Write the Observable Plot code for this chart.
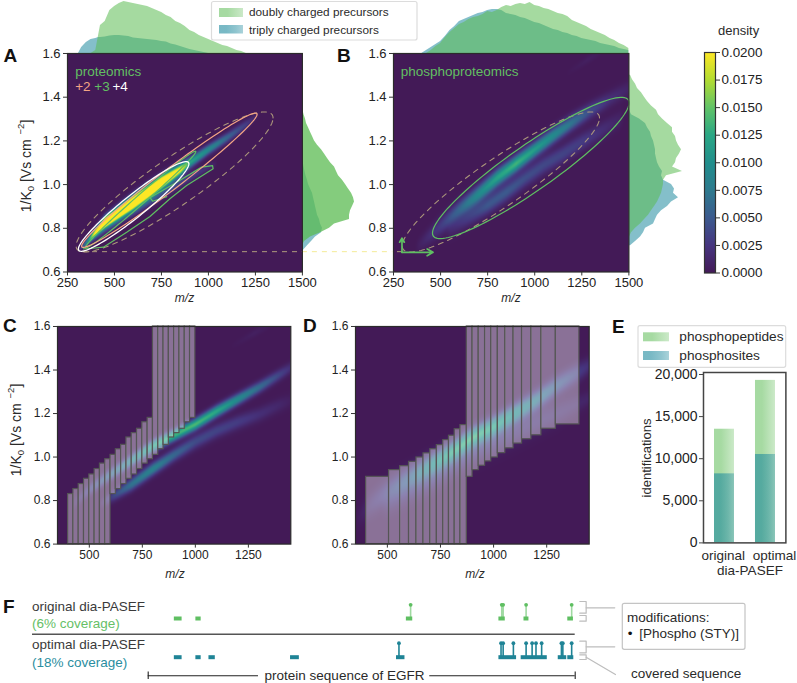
<!DOCTYPE html>
<html><head><meta charset="utf-8">
<script src="https://cdn.jsdelivr.net/npm/d3@7"></script>
<script src="https://cdn.jsdelivr.net/npm/@observablehq/plot@0.6"></script>
<style>
html,body{margin:0;padding:0;background:#fff}
#root{position:relative;width:797px;height:683px;overflow:hidden;font-family:"Liberation Sans",Arial,sans-serif}
#root svg{overflow:visible}
</style></head><body>
<svg width="0" height="0" style="position:absolute"><defs>
<linearGradient id="gGreen"><stop offset="0.35" stop-color="#a6daa2"/><stop offset="1" stop-color="#cbe9c8"/></linearGradient>
<linearGradient id="gTeal"><stop offset="0.3" stop-color="#1f8a9e" stop-opacity="0.6"/><stop offset="0.7" stop-color="#1f8a9e" stop-opacity="0.5"/><stop offset="1" stop-color="#1f8a9e" stop-opacity="0.38"/></linearGradient>
</defs></svg>
<div id="root"></div>
<script>
// ---------- colours ----------
const colorStops=["#431a57","#46357f","#3c5a8e","#2e7a8e","#218e8c","#2aa785","#62c368","#b2dc32","#fde725"];
const GREEN="#5fbf62",TEAL="#1f8496",TAN="#b09c7c",SALMON="#f4a585";

// ---------- density ridges: [m/z, 1/K0, peak density, cross width] ----------
const ridgeA1=[[317,.705,.002,.006],[350,.733,.008,.010],[400,.782,.022,.014],[450,.826,.032,.018],[600,.918,.036,.021],[750,1.01,.032,.02],[850,1.068,.021,.018],[900,1.10,.0125,.017],[1000,1.16,.0095,.015],[1100,1.215,.006,.015],[1200,1.275,.003,.014],[1265,1.32,.0005,.01]];
const ridgeA2=[[400,.745,.001,.01],[550,.845,.002,.013],[700,.93,.004,.018],[850,1.01,.0035,.016],[1000,1.08,.002,.012],[1040,1.095,.0004,.01]];
const ridgeB1=[[380,.72,.0005,.023],[500,.81,.003,.028],[600,.885,.006,.028],[700,.955,.0095,.027],[800,1.03,.012,.026],[900,1.095,.0135,.025],[1000,1.16,.0115,.024],[1100,1.225,.0095,.024],[1200,1.285,.007,.024],[1300,1.34,.004,.024],[1400,1.39,.002,.024],[1500,1.44,.001,.024]];
const ridgeB2=[[550,.79,.001,.025],[650,.85,.003,.027],[750,.905,.0048,.027],[850,.965,.005,.027],[950,1.03,.0042,.027],[1050,1.09,.0038,.027],[1150,1.14,.0035,.027],[1250,1.195,.003,.027],[1350,1.245,.002,.027],[1450,1.30,.001,.027]];
const ridgeFaint=[[1180,1.515,.0001,.012],[1280,1.57,.0006,.012],[1340,1.6,.0003,.012]];
const ridgeC1=[[430,.79,.0008,.018],[500,.85,.003,.018],[600,.92,.006,.018],[700,.985,.0085,.018],[800,1.05,.012,.018],[900,1.10,.0135,.018],[1000,1.15,.014,.018],[1100,1.21,.0125,.018],[1200,1.265,.0095,.018],[1300,1.32,.0065,.018],[1400,1.38,.0035,.018],[1450,1.41,.002,.018]];
const ridgeC2=[[560,.79,.001,.015],[620,.825,.004,.018],[700,.875,.007,.02],[800,.945,.0085,.02],[900,1.01,.006,.02],[1000,1.07,.004,.022],[1100,1.12,.0035,.022],[1200,1.16,.003,.022],[1300,1.195,.002,.022],[1400,1.24,.0012,.022],[1450,1.26,.0006,.022]];
const ridgeD1=[[360,.72,.0003,.032],[420,.78,.0015,.038],[500,.84,.003,.038],[600,.90,.005,.035],[700,.96,.0085,.032],[800,1.02,.0115,.03],[900,1.09,.0125,.029],[1000,1.14,.0115,.029],[1100,1.20,.0095,.029],[1200,1.26,.0075,.029],[1300,1.33,.005,.029],[1400,1.39,.003,.029],[1450,1.42,.002,.026]];
const ridgeD2=[[500,.78,.001,.036],[700,.90,.0025,.042],[900,1.03,.0025,.042],[1100,1.12,.002,.042],[1300,1.20,.0015,.036],[1450,1.27,.001,.024]];

// ---------- marginal histograms (bar length) ----------
const topA_mz=[308,325,350,375,400,415,425,450,475,500,525,550,575,600,625,650,675,700,725,750,775,800,825,850,875,900,925,950,975,1000,1025,1050,1075,1100,1125,1150,1175,1200];
const topA_2=[0,0,0,0,3,18,28,32,43,47,50,52,51,50,49,48,47,45,43,41,38,36,32,30,27,23,21,18,16,14,12,10,8,7,5,3,2,0];
const topA_3=[0,6,11,14,15,16,16,16.5,17.5,18,18,17.5,17,15.5,15,14.5,14,13.5,13,12,11.5,9.5,8.5,7,5.5,4,3,2,1,0,0,0,0,0,0,0,0,0];
const topB_mz=[400,425,450,475,500,525,550,575,600,625,650,675,700,725,750,775,800,825,850,875,900,925,950,975,1000,1025,1050,1075,1100,1125,1150,1175,1200,1225,1250,1275,1300,1325,1350,1375,1400,1425,1450,1475,1500];
const topB_2=[0,0,3,7,10,16,21,25,29,31,34,36,37,39,42,41,43,46,48,47,49,50,49,51,48,47,45,44,42,40,39,37,33,31,29,27,24,22,20,18,15,13,10,8,5];
const topB_3=[0,3,6,9,12,17,23,27,32,34,36,38,40,41,43,44,44,43,40,39,38,36,35,33,31,30,28,26,24,23,21,20,18,17,15,14,13,12,10,9,8,7,5,4,3];
const rightA_k=[.70,.72,.74,.76,.78,.80,.82,.84,.86,.88,.90,.92,.94,.96,.98,1.0,1.02,1.04,1.06,1.08,1.10,1.12,1.14,1.16,1.18,1.20,1.22,1.24,1.26,1.28,1.30,1.32,1.34];
const rightA_2=[0,0,2,8,18,27,32,47,47,48,50,52,51,49,46,43,40,36,34,32,28,25,22,19,15,12,10,8,6,4,3,1.5,.5];
const rightA_3=[1,5,9,13,19,20,18,17,15,14,13,12,11,10,8,6,5,3.5,2.5,1.5,.8,.3,0,0,0,0,0,0,0,0,0,0,0];
const rightB_k=[.72,.74,.76,.78,.80,.82,.84,.86,.88,.90,.92,.94,.96,.98,1.0,1.02,1.04,1.06,1.08,1.10,1.12,1.14,1.16,1.18,1.20,1.22,1.24,1.26,1.28,1.30,1.32,1.34,1.36,1.38,1.40,1.42,1.44,1.46,1.48,1.50];
const rightB_2=[0,0,0,2,6,11,15,19,22,25,28,30,32,33,34,34,37,53,43,46,47,50,52,49,47,46,43,43,38,33,29,27,22,18,15,12,8,6,3,1];
const rightB_3=[1,6,11,14,16,24,26,28,32,38,42,49,44,45,42,34,32,33,30,28,27,26,26,25,24,22,21,18,16,10,2,0,0,0,0,0,0,0,0,0];

// ---------- contour ellipses: centre, major vector, minor vector ----------
const ellDashed=[[820,1.012],[524,.293],[0,.13]];
const ellPlus2=[[792,1.02],[467,.302],[0,.058]];
const ellPlus3=[[638.5,.931],[294.5,.22],[0,.028]];
const ellPlus4=[[602,.90],[294,.195],[0,.064]];
const ellPhos=[[979,1.076],[522,.298],[0,.125]];
const plus3Crescent=[[335,.706],[370,.7075],[441,.7135],[565,.782],[689,.854],[795,.935],[884,.996],[1025,1.072],[1022,1.087],[964,1.08],[831,1.011],[689,.94],[703,.924],[778,.945]];

// ---------- isolation windows ----------
const cTops=[.83,.853,.876,.9,.92,.945,.97,.99];
const cMids=[1.01,1.036,1.056,1.09,1.11,1.13,1.16,1.18];
const cStart=[400,600,800];
const dEdgesLow=[400,508,560,602,637,670,702,733,763,790,817,844,874];
const dTopsLow=[.909,.94,.958,.978,.998,1.017,1.036,1.055,1.078,1.098,1.128,1.147];
const dEdgesHigh=[874,901,930,960,989,1020,1055,1094,1134,1178,1225,1293,1404];
const dBotsHigh=[.909,.94,.96,.98,.998,1.018,1.04,1.062,1.082,1.10,1.13,1.15];

// ---------- bars ----------
const methods=["original","optimal"];
const phosphopeptides=[13500,19300];
const phosphosites=[8200,10500];

// ---------- sequence coverage (residues of EGFR) ----------
const origCovered=[[75,97],[136,151],[732,750],[994,1012],[1065,1079],[1189,1205]];
const optCovered=[[75,97],[136,151],[173,191],[404,429],[704,728],[994,1044],[1057,1131],[1162,1186],[1189,1206]];
const origSites=[744,1002,1006,1071,1200];
const optSites=[711,1000,1006,1035,1071,1088,1099,1115,1171,1175,1200];
const SEQ_LEN=1210;

// ---------- helpers ----------
const root=document.getElementById("root");
function place(node,left,top){node.style.position="absolute";node.style.left=left+"px";node.style.top=top+"px";root.append(node);return node;}
const baseStyle=(fs)=>({fontFamily:"'Liberation Sans',Arial,sans-serif",fontSize:fs+"px",background:"transparent",overflow:"visible",color:"#222"});
const colorScale={type:"linear",domain:[0,.02],clamp:true,interpolate:d3.piecewise(d3.interpolateRgb,colorStops)};
function density(ridges){
  const rs=ridges.map(r=>{
    const xs=r.map(d=>d[0]);
    const mk=i=>d3.scaleLinear().domain(xs).range(r.map(d=>d[i]));
    return {lo:xs[0],hi:xs[xs.length-1],k:mk(1),p:mk(2),s:mk(3)};
  });
  return (x,y)=>{
    let t=0;
    for(const r of rs){
      if(x<r.lo-30||x>r.hi+30) continue;
      const f=x<r.lo?(x-(r.lo-30))/30:x>r.hi?((r.hi+30)-x)/30:1;
      const d=(y-r.k(x))/r.s(x);
      t+=f*r.p(x)*Math.exp(-d*d/2);
    }
    return t;
  };
}
function ellipse([c,u,v]){
  return d3.range(0,361,3).map(a=>{const t=a*Math.PI/180;return [c[0]+Math.cos(t)*u[0]+Math.sin(t)*v[0],c[1]+Math.cos(t)*u[1]+Math.sin(t)*v[1]];});
}
const ellLine=(e,o)=>Plot.line(ellipse(e),{x:d=>d[0],y:d=>d[1],...o});
function panel({left,top,w,h,domain,xticks,ridges,extra=[],fs=13}){
  const ml=40,mt=6,mb=26,mr=6;
  const p=Plot.plot({width:w+ml+mr,height:h+mt+mb,marginLeft:ml,marginRight:mr,marginTop:mt,marginBottom:mb,
    style:baseStyle(fs),
    x:{domain},y:{domain:[.6,1.6]},color:colorScale,
    marks:[
      Plot.raster({x1:domain[0],x2:domain[1],y1:.6,y2:1.6,fill:density(ridges),pixelSize:1}),
      ...extra,
      Plot.frame({stroke:"#2b2b2b",strokeWidth:1.2}),
      Plot.axisX({ticks:xticks,tickSize:4,tickPadding:2,tickFormat:d=>String(d),label:null,stroke:"#333"}),
      Plot.axisY({ticks:[.6,.8,1,1.2,1.4,1.6],tickSize:4,tickPadding:3,tickFormat:d3.format(".1f"),label:null,stroke:"#333"})
    ]});
  place(p,left-ml,top-mt);
}
function histTop(mz,teal,green,domain,left,opG){
  const mk=a=>mz.map((x,i)=>({x,v:a[i]}));
  const p=Plot.plot({width:235.4,height:55,margin:0,style:baseStyle(10),x:{domain,axis:null},y:{domain:[0,55],axis:null},
    marks:[
      Plot.areaY(mk(teal),{x:"x",y:"v",fill:"#1f8a9e",fillOpacity:.55,curve:"linear"}),
      Plot.areaY(mk(green),{x:"x",y:"v",fill:"#5bbb52",fillOpacity:opG,curve:"linear"})
    ]});
  place(p,left,-2);
}
function histRight(k,teal,green,left,opG){
  const mk=a=>k.map((y,i)=>({y,v:a[i]}));
  const p=Plot.plot({width:60,height:218.5,margin:0,style:baseStyle(10),x:{domain:[0,60],axis:null},y:{domain:[.6,1.6],axis:null},
    marks:[
      Plot.areaX(mk(teal),{y:"y",x:"v",fill:"#1f8a9e",fillOpacity:.55,curve:"linear"}),
      Plot.areaX(mk(green),{y:"y",x:"v",fill:"#5bbb52",fillOpacity:opG,curve:"linear"})
    ]});
  place(p,left,53);
}

// ---------- histograms behind panels ----------
histTop(topA_mz,topA_3,topA_2,[250,1500],67.3,.55);
histTop(topB_mz,topB_3,topB_2,[250,1500],393.3,.55);
histRight(rightA_k,rightA_3,rightA_2,302.2,.75);
histRight(rightB_k,rightB_3,rightB_2,628.7,.55);

// ---------- panels A, B ----------
const xt250=[250,500,750,1000,1250,1500];
const dashedE=ellLine(ellDashed,{stroke:TAN,strokeWidth:1.1,strokeDasharray:"5,5",strokeOpacity:.95});
const txt=(s,x,y,fill)=>Plot.text([s],{x:()=>x,y:()=>y,text:d=>d,fill,textAnchor:"start",fontSize:13.5,lineAnchor:"bottom",dy:3});
panel({left:67.3,top:53,w:234.9,h:218.5,domain:[250,1500],xticks:xt250,ridges:[ridgeA1,ridgeA2],extra:[
  Plot.ruleY([.693],{x1:330,x2:1500,stroke:TAN,strokeWidth:1,strokeDasharray:"5,5"}),
  Plot.ruleY([.693],{x1:1500,x2:1981,stroke:"#f3eb98",strokeWidth:1,strokeDasharray:"5,5"}),
  dashedE,
  Plot.line(plus3Crescent,{x:d=>d[0],y:d=>d[1],stroke:GREEN,strokeWidth:1.2}),
  ellLine(ellPlus3,{stroke:GREEN,strokeWidth:1.2}),
  ellLine(ellPlus2,{stroke:SALMON,strokeWidth:1.2}),
  ellLine(ellPlus4,{stroke:"#fff",strokeWidth:1.3}),
  txt("proteomics",291,1.51,"#62bf62"),
  txt("+2",291,1.44,SALMON),txt("+3",393,1.44,"#62bf62"),txt("+4",489,1.44,"#fff")
]});
panel({left:393.3,top:53,w:235.4,h:218.5,domain:[250,1500],xticks:xt250,ridges:[ridgeB1,ridgeB2,ridgeFaint],extra:[
  Plot.ruleY([.693],{x1:271,x2:300,stroke:TAN,strokeWidth:1,strokeDasharray:"5,5"}),
  dashedE,
  ellLine(ellPhos,{stroke:GREEN,strokeWidth:1.2}),
  Plot.arrow([0],{x1:()=>295,y1:()=>.69,x2:()=>460,y2:()=>.69,bend:false,stroke:GREEN,strokeWidth:1.7,headLength:6}),
  Plot.arrow([0],{x1:()=>295,y1:()=>.69,x2:()=>295,y2:()=>.755,bend:false,stroke:GREEN,strokeWidth:1.7,headLength:6}),
  txt("phosphoproteomics",289,1.51,"#62bf62")
]});

// ---------- panels C, D ----------
const winStyle={fill:"#fff",fillOpacity:.38,stroke:"#555",strokeWidth:1.2,inset:0};
const cWindows=[];
cTops.forEach((t,i)=>cWindows.push({x1:cStart[0]+25*i,x2:cStart[0]+25*(i+1),y1:.6,y2:t}));
cTops.forEach((t,i)=>cWindows.push({x1:cStart[1]+25*i,x2:cStart[1]+25*(i+1),y1:t,y2:cMids[i]}));
cMids.forEach((t,i)=>cWindows.push({x1:cStart[2]+25*i,x2:cStart[2]+25*(i+1),y1:t,y2:1.6}));
const dWindows=[];
dTopsLow.forEach((t,i)=>dWindows.push({x1:dEdgesLow[i],x2:dEdgesLow[i+1],y1:.6,y2:t}));
dBotsHigh.forEach((b,i)=>dWindows.push({x1:dEdgesHigh[i],x2:dEdgesHigh[i+1],y1:b,y2:1.6}));
const rectOf=w=>Plot.rect(w,{x1:"x1",x2:"x2",y1:"y1",y2:"y2",...winStyle});
const xtCD=[500,750,1000,1250];
panel({left:56.7,top:325.7,w:233.3,h:217.6,domain:[350,1450],xticks:xtCD,fs:12,ridges:[ridgeC1,ridgeC2,ridgeFaint],extra:[rectOf(cWindows)]});
panel({left:355,top:325.7,w:233.7,h:217.6,domain:[350,1450],xticks:xtCD,fs:12,ridges:[ridgeD1,ridgeD2],extra:[rectOf(dWindows)]});

// ---------- colour bar ----------
place(Plot.plot({width:11+45,height:220.5+12,marginLeft:0,marginRight:45,marginTop:6,marginBottom:6,style:baseStyle(13.4),
  x:{domain:[0,1],axis:null},y:{domain:[0,.02]},color:colorScale,
  marks:[
    Plot.raster({x1:0,x2:1,y1:0,y2:.02,fill:(x,y)=>y,pixelSize:1}),
    Plot.frame({stroke:"#333",strokeWidth:1.2}),
    Plot.axisY({anchor:"right",ticks:d3.range(0,.0201,.0025),tickSize:4,tickPadding:2,tickFormat:d3.format(".4f"),label:null,stroke:"#333"})
  ]}),704,45.5);

// ---------- panel E ----------
place(Plot.plot({width:82.4+50,height:170.4+4,marginLeft:50,marginRight:0,marginTop:2,marginBottom:2,style:baseStyle(14),
  x:{domain:methods,axis:null,paddingInner:.52,paddingOuter:.245},y:{domain:[0,20238]},
  marks:[
    Plot.barY(methods.map((m,i)=>({m,v:phosphopeptides[i]})),{x:"m",y:"v",fill:"url(#gGreen)"}),
    Plot.barY(methods.map((m,i)=>({m,v:phosphosites[i]})),{x:"m",y:"v",fill:"url(#gTeal)"}),
    Plot.frame({stroke:"#444",strokeWidth:1.5}),
    Plot.axisY({ticks:[0,5000,10000,15000,20000],tickFormat:d3.format(",d"),tickSize:4,tickPadding:2,label:null,stroke:"#444"})
  ]}),703.3-50,370.3);

// ---------- panel F ----------
const resOf=px=>1+(px-147.7)*2.831;
const rows=[{seg:origCovered,sites:origSites,y:28,top:14.3,c:GREEN,so:.6},{seg:optCovered,sites:optSites,y:66.7,top:52.7,c:TEAL,so:1}];
const bracketMarks=[[11,22.7,17.3],[25,30.7,null],[50.7,62.3,56.3],[64.3,69,null]].flatMap(([a,b,m])=>{
  const mks=[Plot.line([[1223,a],[1241,a],[1241,b],[1223,b]],{x:d=>d[0],y:d=>d[1],stroke:"#bdbdbd",strokeWidth:1.2})];
  if(m!==null) mks.push(Plot.line([[1241,m],[1322,m]],{x:d=>d[0],y:d=>d[1],stroke:"#bdbdbd",strokeWidth:1.2}));
  return mks;
});
place(Plot.plot({width:797,height:93,marginLeft:147.7,marginRight:222.3,marginTop:0,marginBottom:0,style:baseStyle(12),
  x:{domain:[1,SEQ_LEN],axis:null},y:{domain:[0,93],range:[0,93],axis:null},
  marks:[
    ...rows.flatMap(r=>[
      Plot.ruleX(r.sites,{x:d=>d,y1:r.top,y2:r.y,stroke:r.c,strokeWidth:1.6,strokeOpacity:r.so}),
      Plot.dot(r.sites,{x:d=>d,y:r.top,r:1.9,fill:r.c}),
      Plot.ruleY(r.seg,{x1:d=>d[0],x2:d=>d[1],y:r.y,stroke:r.c,strokeWidth:4})
    ]),
    Plot.ruleY([43.7],{x1:resOf(32),x2:SEQ_LEN,stroke:"#555",strokeWidth:1.5}),
    Plot.ruleY([85.3],{x1:1,x2:resOf(258),stroke:"#222",strokeWidth:1.1}),
    Plot.ruleY([85.3],{x1:resOf(429.3),x2:SEQ_LEN,stroke:"#222",strokeWidth:1.1}),
    Plot.ruleX([1,SEQ_LEN],{x:d=>d,y1:81.5,y2:89,stroke:"#222",strokeWidth:1.1}),
    ...bracketMarks,
    Plot.line([[1241,66.7],[1324,84]],{x:d=>d[0],y:d=>d[1],stroke:"#bdbdbd",strokeWidth:1.2})
  ]}),0,590);

// ---------- text and legend overlay ----------
const ov=d3.select(root).append("svg").attr("width",797).attr("height",683)
  .style("position","absolute").style("left",0).style("top",0).style("pointer-events","none")
  .style("font-family","'Liberation Sans',Arial,sans-serif");
function T(s,x,y,size,o={}){
  return ov.append("text").attr("x",x).attr("y",y).attr("font-size",size).attr("fill",o.fill||"#2a2a2a")
    .attr("text-anchor",o.anchor||"start").attr("font-weight",o.weight||null).attr("font-style",o.style||null).text(s);
}
function box(x,y,w,h,stroke="#dcdcdc"){ov.append("rect").attr("x",x).attr("y",y).attr("width",w).attr("height",h).attr("rx",2).attr("fill","#fff").attr("stroke",stroke).attr("stroke-width",1.2);}
function swatch(x,y,w,h,id){ov.append("rect").attr("x",x).attr("y",y).attr("width",w).attr("height",h).attr("fill",`url(#${id})`);}
[["A",3.5,61.5],["B",337,61.5],["C",3,331.7],["D",303,331.7],["E",612,332.7],["F",3,613]].forEach(([s,x,y])=>T(s,x,y,19,{weight:"bold",fill:"#111"}));
box(211.5,1.5,205.5,38.5);
swatch(219,8,24,9,"gGreen");swatch(219,25,24,8.5,"gTeal");
T("doubly charged precursors",249,16.3,11.8);
T("triply charged precursors",249,33.5,11.8);
T("density",718,35,13);
[[184.5,302],[511,302],[175,578],[475,578]].forEach(([x,y])=>T("m/z",x,y,12,{anchor:"middle",style:"italic"}));
function ylab(cx,cy){
  const t=ov.append("text").attr("transform",`translate(${cx},${cy}) rotate(-90)`).attr("text-anchor","middle").attr("font-size",14).attr("fill","#2a2a2a");
  t.append("tspan").text("1/K");
  t.append("tspan").attr("font-size",9.5).attr("dy",3).text("0");
  t.append("tspan").attr("dy",-3).text(" [Vs cm ");
  t.append("tspan").attr("font-size",9.5).attr("dy",-7).attr("dx",1).text("\u22122");
  t.append("tspan").attr("dy",7).text("]");
}
ylab(31,166);ylab(20.5,430);
// E
box(638,325.7,147.7,41.6);
swatch(643,332.3,26,9,"gGreen");swatch(643,351,26,9,"gTeal");
T("phosphopeptides",679.3,341,13.7);T("phosphosites",679.3,360,13.7);
T("identifications",651,458,13,{anchor:"middle"}).attr("transform","rotate(-90 651 458)").attr("x",651).attr("y",458);
T(methods[0],723.3,560,13.5,{anchor:"middle"});
T(methods[1],774.5,560,13.5,{anchor:"middle"});
T("dia-PASEF",750,575,13.5,{anchor:"middle"});
// F
T("original dia-PASEF",32,610.7,13.5,{fill:"#3a3a3a"});
T("(6% coverage)",32,627.7,13.5,{fill:"#66c067"});
T("optimal dia-PASEF",32,649.3,13.5,{fill:"#3a3a3a"});
T("(18% coverage)",32,666.7,13.5,{fill:"#2a8ea0"});
T("protein sequence of EGFR",344.5,679.8,13.5,{anchor:"middle"});
box(622.3,603.3,122.7,46,"#c4c4c4");
T("modifications:",627,621.7,13.5);
T("\u2022",627.7,638.3,13.5,{fill:"#111"});
T("[Phospho (STY)]",639.3,638.3,13.5);
T("covered sequence",631,677.7,13.5);
</script></body></html>
